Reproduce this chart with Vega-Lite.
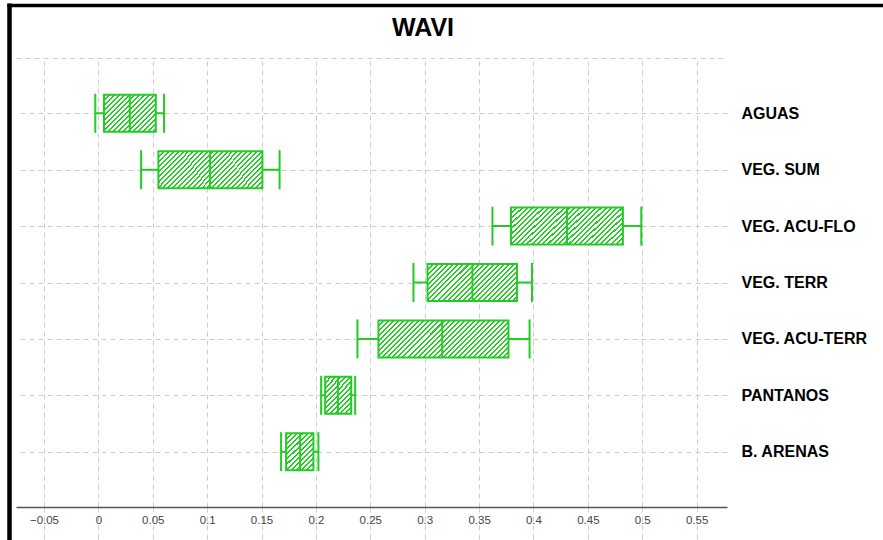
{
  "$schema": "https://vega.github.io/schema/vega-lite/v6.json",
  "autosize": "none",
  "width": 711,
  "height": 449,
  "padding": {"left": 16, "top": 58, "right": 156, "bottom": 33},
  "background": "#ffffff",
  "title": {
    "text": "WAVI",
    "font": "Liberation Sans",
    "fontSize": 25,
    "fontWeight": "bold",
    "color": "#000000",
    "anchor": "middle",
    "frame": "group",
    "dx": 51.5,
    "offset": -56,
    "baseline": "alphabetic"
  },
  "config": {"view": {"stroke": null}},
  "data": {
    "values": [
      {"cat": "AGUAS", "lo": -0.0028, "q1": 0.0052, "med": 0.0289, "q3": 0.0528, "hi": 0.0604},
      {"cat": "VEG. SUM", "lo": 0.0393, "q1": 0.0552, "med": 0.1027, "q3": 0.1508, "hi": 0.1666},
      {"cat": "VEG. ACU-FLO", "lo": 0.3623, "q1": 0.3793, "med": 0.4308, "q3": 0.4822, "hi": 0.4991},
      {"cat": "VEG. TERR", "lo": 0.2897, "q1": 0.3026, "med": 0.3439, "q3": 0.3848, "hi": 0.3986},
      {"cat": "VEG. ACU-TERR", "lo": 0.2382, "q1": 0.2575, "med": 0.3161, "q3": 0.377, "hi": 0.3964},
      {"cat": "PANTANOS", "lo": 0.2048, "q1": 0.2085, "med": 0.2202, "q3": 0.2324, "hi": 0.2361},
      {"cat": "B. ARENAS", "lo": 0.168, "q1": 0.1726, "med": 0.1855, "q3": 0.1977, "hi": 0.2023}
    ]
  },
  "layer": [
    {
      "encoding": {
        "y": {
          "field": "cat",
          "type": "nominal",
          "sort": null,
          "scale": {"type": "point", "padding": 0.98},
          "axis": {
            "orient": "right",
            "title": null,
            "domain": false,
            "ticks": false,
            "labelPadding": 14,
            "labelFont": "Liberation Sans",
            "labelFontSize": 16,
            "labelFontWeight": "bold",
            "labelColor": "#000000",
            "labelLimit": 0,
            "grid": true,
            "gridColor": "#cccccc",
            "gridDash": [5, 4],
            "gridWidth": 1
          }
        }
      },
      "layer": [
        {
          "mark": {"type": "rule", "color": "#2c2", "strokeWidth": 2},
          "encoding": {
            "x": {
              "field": "lo",
              "type": "quantitative",
              "scale": {"domain": [-0.0757, 0.5779], "nice": false, "zero": false},
              "axis": {
                "orient": "bottom",
                "title": null,
                "values": [-0.05, 0, 0.05, 0.1, 0.15, 0.2, 0.25, 0.3, 0.35, 0.4, 0.45, 0.5, 0.55],
                "format": "~g",
                "domain": true,
                "domainColor": "#555555",
                "domainWidth": 1.5,
                "ticks": true,
                "tickSize": 33,
                "tickColor": "#cccccc",
                "tickDash": [5, 4],
                "tickWidth": 1,
                "labelPadding": -26,
                "labelFont": "Liberation Sans",
                "labelFontSize": 11.5,
                "labelColor": "#444444",
                "labelFlush": false,
                "labelOverlap": false,
                "grid": true,
                "gridColor": "#cccccc",
                "gridDash": [5, 4],
                "gridWidth": 1
              }
            },
            "x2": {"field": "hi"}
          }
        },
        {
          "transform": [{"filter": {"field": "cat", "oneOf": ["PANTANOS", "B. ARENAS"]}}],
          "mark": {
            "type": "bar", "size": 37, "stroke": "#2c2", "strokeWidth": 2,
            "fill": {
              "gradient": "linear", "x1": 0, "y1": 0, "x2": 0.817, "y2": 1.132,
              "stops": [
                {"offset": 0, "color": "#2c2"}, {"offset": 0.032, "color": "#2c2"}, {"offset": 0.032, "color": "#fff"}, {"offset": 0.08, "color": "#fff"},
                {"offset": 0.08, "color": "#2c2"}, {"offset": 0.112, "color": "#2c2"}, {"offset": 0.112, "color": "#fff"}, {"offset": 0.16, "color": "#fff"},
                {"offset": 0.16, "color": "#2c2"}, {"offset": 0.192, "color": "#2c2"}, {"offset": 0.192, "color": "#fff"}, {"offset": 0.24, "color": "#fff"},
                {"offset": 0.24, "color": "#2c2"}, {"offset": 0.272, "color": "#2c2"}, {"offset": 0.272, "color": "#fff"}, {"offset": 0.32, "color": "#fff"},
                {"offset": 0.32, "color": "#2c2"}, {"offset": 0.352, "color": "#2c2"}, {"offset": 0.352, "color": "#fff"}, {"offset": 0.4, "color": "#fff"},
                {"offset": 0.4, "color": "#2c2"}, {"offset": 0.432, "color": "#2c2"}, {"offset": 0.432, "color": "#fff"}, {"offset": 0.48, "color": "#fff"},
                {"offset": 0.48, "color": "#2c2"}, {"offset": 0.512, "color": "#2c2"}, {"offset": 0.512, "color": "#fff"}, {"offset": 0.56, "color": "#fff"},
                {"offset": 0.56, "color": "#2c2"}, {"offset": 0.592, "color": "#2c2"}, {"offset": 0.592, "color": "#fff"}, {"offset": 0.64, "color": "#fff"},
                {"offset": 0.64, "color": "#2c2"}, {"offset": 0.672, "color": "#2c2"}, {"offset": 0.672, "color": "#fff"}, {"offset": 0.72, "color": "#fff"},
                {"offset": 0.72, "color": "#2c2"}, {"offset": 0.752, "color": "#2c2"}, {"offset": 0.752, "color": "#fff"}, {"offset": 0.8, "color": "#fff"},
                {"offset": 0.8, "color": "#2c2"}, {"offset": 0.832, "color": "#2c2"}, {"offset": 0.832, "color": "#fff"}, {"offset": 0.88, "color": "#fff"},
                {"offset": 0.88, "color": "#2c2"}, {"offset": 0.912, "color": "#2c2"}, {"offset": 0.912, "color": "#fff"}, {"offset": 0.96, "color": "#fff"},
                {"offset": 0.96, "color": "#2c2"}, {"offset": 0.992, "color": "#2c2"}, {"offset": 0.992, "color": "#fff"}, {"offset": 1, "color": "#fff"}
              ]
            }
          },
          "encoding": {
            "x": {
              "field": "q1", "type": "quantitative",
              "scale": {"domain": [-0.0757, 0.5779], "nice": false, "zero": false},
              "axis": {
                "orient": "top", "title": null, "labels": false, "ticks": false, "grid": false,
                "domain": true, "domainColor": "#cccccc", "domainDash": [5, 4], "domainWidth": 1
              }
            },
            "x2": {"field": "q3"}
          }
        },
        {
          "transform": [{"filter": {"field": "cat", "oneOf": ["VEG. SUM", "VEG. ACU-FLO"]}}],
          "mark": {
            "type": "bar", "size": 37, "stroke": "#2c2", "strokeWidth": 2,
            "fill": {
              "gradient": "linear", "x1": 0, "y1": 0, "x2": 1.2016, "y2": 0.4117,
              "stops": [
                {"offset": 0, "color": "#2c2"}, {"offset": 0.014, "color": "#2c2"}, {"offset": 0.014, "color": "#fff"}, {"offset": 0.035, "color": "#fff"},
                {"offset": 0.035, "color": "#2c2"}, {"offset": 0.049, "color": "#2c2"}, {"offset": 0.049, "color": "#fff"}, {"offset": 0.07, "color": "#fff"},
                {"offset": 0.07, "color": "#2c2"}, {"offset": 0.084, "color": "#2c2"}, {"offset": 0.084, "color": "#fff"}, {"offset": 0.105, "color": "#fff"},
                {"offset": 0.105, "color": "#2c2"}, {"offset": 0.119, "color": "#2c2"}, {"offset": 0.119, "color": "#fff"}, {"offset": 0.14, "color": "#fff"},
                {"offset": 0.14, "color": "#2c2"}, {"offset": 0.154, "color": "#2c2"}, {"offset": 0.154, "color": "#fff"}, {"offset": 0.175, "color": "#fff"},
                {"offset": 0.175, "color": "#2c2"}, {"offset": 0.189, "color": "#2c2"}, {"offset": 0.189, "color": "#fff"}, {"offset": 0.21, "color": "#fff"},
                {"offset": 0.21, "color": "#2c2"}, {"offset": 0.224, "color": "#2c2"}, {"offset": 0.224, "color": "#fff"}, {"offset": 0.245, "color": "#fff"},
                {"offset": 0.245, "color": "#2c2"}, {"offset": 0.259, "color": "#2c2"}, {"offset": 0.259, "color": "#fff"}, {"offset": 0.28, "color": "#fff"},
                {"offset": 0.28, "color": "#2c2"}, {"offset": 0.294, "color": "#2c2"}, {"offset": 0.294, "color": "#fff"}, {"offset": 0.315, "color": "#fff"},
                {"offset": 0.315, "color": "#2c2"}, {"offset": 0.329, "color": "#2c2"}, {"offset": 0.329, "color": "#fff"}, {"offset": 0.35, "color": "#fff"},
                {"offset": 0.35, "color": "#2c2"}, {"offset": 0.364, "color": "#2c2"}, {"offset": 0.364, "color": "#fff"}, {"offset": 0.385, "color": "#fff"},
                {"offset": 0.385, "color": "#2c2"}, {"offset": 0.399, "color": "#2c2"}, {"offset": 0.399, "color": "#fff"}, {"offset": 0.42, "color": "#fff"},
                {"offset": 0.42, "color": "#2c2"}, {"offset": 0.434, "color": "#2c2"}, {"offset": 0.434, "color": "#fff"}, {"offset": 0.455, "color": "#fff"},
                {"offset": 0.455, "color": "#2c2"}, {"offset": 0.469, "color": "#2c2"}, {"offset": 0.469, "color": "#fff"}, {"offset": 0.49, "color": "#fff"},
                {"offset": 0.49, "color": "#2c2"}, {"offset": 0.504, "color": "#2c2"}, {"offset": 0.504, "color": "#fff"}, {"offset": 0.525, "color": "#fff"},
                {"offset": 0.525, "color": "#2c2"}, {"offset": 0.539, "color": "#2c2"}, {"offset": 0.539, "color": "#fff"}, {"offset": 0.56, "color": "#fff"},
                {"offset": 0.56, "color": "#2c2"}, {"offset": 0.574, "color": "#2c2"}, {"offset": 0.574, "color": "#fff"}, {"offset": 0.595, "color": "#fff"},
                {"offset": 0.595, "color": "#2c2"}, {"offset": 0.609, "color": "#2c2"}, {"offset": 0.609, "color": "#fff"}, {"offset": 0.63, "color": "#fff"},
                {"offset": 0.63, "color": "#2c2"}, {"offset": 0.644, "color": "#2c2"}, {"offset": 0.644, "color": "#fff"}, {"offset": 0.665, "color": "#fff"},
                {"offset": 0.665, "color": "#2c2"}, {"offset": 0.679, "color": "#2c2"}, {"offset": 0.679, "color": "#fff"}, {"offset": 0.7, "color": "#fff"},
                {"offset": 0.7, "color": "#2c2"}, {"offset": 0.714, "color": "#2c2"}, {"offset": 0.714, "color": "#fff"}, {"offset": 0.735, "color": "#fff"},
                {"offset": 0.735, "color": "#2c2"}, {"offset": 0.749, "color": "#2c2"}, {"offset": 0.749, "color": "#fff"}, {"offset": 0.77, "color": "#fff"},
                {"offset": 0.77, "color": "#2c2"}, {"offset": 0.784, "color": "#2c2"}, {"offset": 0.784, "color": "#fff"}, {"offset": 0.805, "color": "#fff"},
                {"offset": 0.805, "color": "#2c2"}, {"offset": 0.819, "color": "#2c2"}, {"offset": 0.819, "color": "#fff"}, {"offset": 0.84, "color": "#fff"},
                {"offset": 0.84, "color": "#2c2"}, {"offset": 0.854, "color": "#2c2"}, {"offset": 0.854, "color": "#fff"}, {"offset": 0.875, "color": "#fff"},
                {"offset": 0.875, "color": "#2c2"}, {"offset": 0.889, "color": "#2c2"}, {"offset": 0.889, "color": "#fff"}, {"offset": 0.91, "color": "#fff"},
                {"offset": 0.91, "color": "#2c2"}, {"offset": 0.924, "color": "#2c2"}, {"offset": 0.924, "color": "#fff"}, {"offset": 0.945, "color": "#fff"},
                {"offset": 0.945, "color": "#2c2"}, {"offset": 0.959, "color": "#2c2"}, {"offset": 0.959, "color": "#fff"}, {"offset": 0.98, "color": "#fff"},
                {"offset": 0.98, "color": "#2c2"}, {"offset": 0.994, "color": "#2c2"}, {"offset": 0.994, "color": "#fff"}, {"offset": 1, "color": "#fff"}
              ]
            }
          },
          "encoding": {
            "x": {"field": "q1", "type": "quantitative", "scale": {"domain": [-0.0757, 0.5779], "nice": false, "zero": false}, "axis": null},
            "x2": {"field": "q3"}
          }
        },
        {
          "transform": [{"filter": {"field": "cat", "equal": "AGUAS"}}],
          "mark": {
            "type": "bar", "size": 37, "stroke": "#2c2", "strokeWidth": 2,
            "fill": {
              "gradient": "linear", "x1": 0, "y1": 0, "x2": 1.1346, "y2": 0.812,
              "stops": [
                {"offset": 0, "color": "#2c2"}, {"offset": 0.022, "color": "#2c2"}, {"offset": 0.022, "color": "#fff"}, {"offset": 0.056, "color": "#fff"},
                {"offset": 0.056, "color": "#2c2"}, {"offset": 0.078, "color": "#2c2"}, {"offset": 0.078, "color": "#fff"}, {"offset": 0.112, "color": "#fff"},
                {"offset": 0.112, "color": "#2c2"}, {"offset": 0.134, "color": "#2c2"}, {"offset": 0.134, "color": "#fff"}, {"offset": 0.168, "color": "#fff"},
                {"offset": 0.168, "color": "#2c2"}, {"offset": 0.19, "color": "#2c2"}, {"offset": 0.19, "color": "#fff"}, {"offset": 0.224, "color": "#fff"},
                {"offset": 0.224, "color": "#2c2"}, {"offset": 0.246, "color": "#2c2"}, {"offset": 0.246, "color": "#fff"}, {"offset": 0.28, "color": "#fff"},
                {"offset": 0.28, "color": "#2c2"}, {"offset": 0.302, "color": "#2c2"}, {"offset": 0.302, "color": "#fff"}, {"offset": 0.336, "color": "#fff"},
                {"offset": 0.336, "color": "#2c2"}, {"offset": 0.358, "color": "#2c2"}, {"offset": 0.358, "color": "#fff"}, {"offset": 0.392, "color": "#fff"},
                {"offset": 0.392, "color": "#2c2"}, {"offset": 0.414, "color": "#2c2"}, {"offset": 0.414, "color": "#fff"}, {"offset": 0.448, "color": "#fff"},
                {"offset": 0.448, "color": "#2c2"}, {"offset": 0.47, "color": "#2c2"}, {"offset": 0.47, "color": "#fff"}, {"offset": 0.504, "color": "#fff"},
                {"offset": 0.504, "color": "#2c2"}, {"offset": 0.526, "color": "#2c2"}, {"offset": 0.526, "color": "#fff"}, {"offset": 0.56, "color": "#fff"},
                {"offset": 0.56, "color": "#2c2"}, {"offset": 0.582, "color": "#2c2"}, {"offset": 0.582, "color": "#fff"}, {"offset": 0.616, "color": "#fff"},
                {"offset": 0.616, "color": "#2c2"}, {"offset": 0.638, "color": "#2c2"}, {"offset": 0.638, "color": "#fff"}, {"offset": 0.672, "color": "#fff"},
                {"offset": 0.672, "color": "#2c2"}, {"offset": 0.694, "color": "#2c2"}, {"offset": 0.694, "color": "#fff"}, {"offset": 0.728, "color": "#fff"},
                {"offset": 0.728, "color": "#2c2"}, {"offset": 0.75, "color": "#2c2"}, {"offset": 0.75, "color": "#fff"}, {"offset": 0.784, "color": "#fff"},
                {"offset": 0.784, "color": "#2c2"}, {"offset": 0.806, "color": "#2c2"}, {"offset": 0.806, "color": "#fff"}, {"offset": 0.84, "color": "#fff"},
                {"offset": 0.84, "color": "#2c2"}, {"offset": 0.862, "color": "#2c2"}, {"offset": 0.862, "color": "#fff"}, {"offset": 0.896, "color": "#fff"},
                {"offset": 0.896, "color": "#2c2"}, {"offset": 0.918, "color": "#2c2"}, {"offset": 0.918, "color": "#fff"}, {"offset": 0.952, "color": "#fff"},
                {"offset": 0.952, "color": "#2c2"}, {"offset": 0.974, "color": "#2c2"}, {"offset": 0.974, "color": "#fff"}, {"offset": 1, "color": "#fff"}
              ]
            }
          },
          "encoding": {
            "x": {"field": "q1", "type": "quantitative", "scale": {"domain": [-0.0757, 0.5779], "nice": false, "zero": false}, "axis": null},
            "x2": {"field": "q3"}
          }
        },
        {
          "transform": [{"filter": {"field": "cat", "equal": "VEG. TERR"}}],
          "mark": {
            "type": "bar", "size": 37, "stroke": "#2c2", "strokeWidth": 2,
            "fill": {
              "gradient": "linear", "x1": 0, "y1": 0, "x2": 1.2071, "y2": 0.4996,
              "stops": [
                {"offset": 0, "color": "#2c2"}, {"offset": 0.016, "color": "#2c2"}, {"offset": 0.016, "color": "#fff"}, {"offset": 0.04, "color": "#fff"},
                {"offset": 0.04, "color": "#2c2"}, {"offset": 0.056, "color": "#2c2"}, {"offset": 0.056, "color": "#fff"}, {"offset": 0.08, "color": "#fff"},
                {"offset": 0.08, "color": "#2c2"}, {"offset": 0.096, "color": "#2c2"}, {"offset": 0.096, "color": "#fff"}, {"offset": 0.12, "color": "#fff"},
                {"offset": 0.12, "color": "#2c2"}, {"offset": 0.136, "color": "#2c2"}, {"offset": 0.136, "color": "#fff"}, {"offset": 0.16, "color": "#fff"},
                {"offset": 0.16, "color": "#2c2"}, {"offset": 0.176, "color": "#2c2"}, {"offset": 0.176, "color": "#fff"}, {"offset": 0.2, "color": "#fff"},
                {"offset": 0.2, "color": "#2c2"}, {"offset": 0.216, "color": "#2c2"}, {"offset": 0.216, "color": "#fff"}, {"offset": 0.24, "color": "#fff"},
                {"offset": 0.24, "color": "#2c2"}, {"offset": 0.256, "color": "#2c2"}, {"offset": 0.256, "color": "#fff"}, {"offset": 0.28, "color": "#fff"},
                {"offset": 0.28, "color": "#2c2"}, {"offset": 0.296, "color": "#2c2"}, {"offset": 0.296, "color": "#fff"}, {"offset": 0.32, "color": "#fff"},
                {"offset": 0.32, "color": "#2c2"}, {"offset": 0.336, "color": "#2c2"}, {"offset": 0.336, "color": "#fff"}, {"offset": 0.36, "color": "#fff"},
                {"offset": 0.36, "color": "#2c2"}, {"offset": 0.376, "color": "#2c2"}, {"offset": 0.376, "color": "#fff"}, {"offset": 0.4, "color": "#fff"},
                {"offset": 0.4, "color": "#2c2"}, {"offset": 0.416, "color": "#2c2"}, {"offset": 0.416, "color": "#fff"}, {"offset": 0.44, "color": "#fff"},
                {"offset": 0.44, "color": "#2c2"}, {"offset": 0.456, "color": "#2c2"}, {"offset": 0.456, "color": "#fff"}, {"offset": 0.48, "color": "#fff"},
                {"offset": 0.48, "color": "#2c2"}, {"offset": 0.496, "color": "#2c2"}, {"offset": 0.496, "color": "#fff"}, {"offset": 0.52, "color": "#fff"},
                {"offset": 0.52, "color": "#2c2"}, {"offset": 0.536, "color": "#2c2"}, {"offset": 0.536, "color": "#fff"}, {"offset": 0.56, "color": "#fff"},
                {"offset": 0.56, "color": "#2c2"}, {"offset": 0.576, "color": "#2c2"}, {"offset": 0.576, "color": "#fff"}, {"offset": 0.6, "color": "#fff"},
                {"offset": 0.6, "color": "#2c2"}, {"offset": 0.616, "color": "#2c2"}, {"offset": 0.616, "color": "#fff"}, {"offset": 0.64, "color": "#fff"},
                {"offset": 0.64, "color": "#2c2"}, {"offset": 0.656, "color": "#2c2"}, {"offset": 0.656, "color": "#fff"}, {"offset": 0.68, "color": "#fff"},
                {"offset": 0.68, "color": "#2c2"}, {"offset": 0.696, "color": "#2c2"}, {"offset": 0.696, "color": "#fff"}, {"offset": 0.72, "color": "#fff"},
                {"offset": 0.72, "color": "#2c2"}, {"offset": 0.736, "color": "#2c2"}, {"offset": 0.736, "color": "#fff"}, {"offset": 0.76, "color": "#fff"},
                {"offset": 0.76, "color": "#2c2"}, {"offset": 0.776, "color": "#2c2"}, {"offset": 0.776, "color": "#fff"}, {"offset": 0.8, "color": "#fff"},
                {"offset": 0.8, "color": "#2c2"}, {"offset": 0.816, "color": "#2c2"}, {"offset": 0.816, "color": "#fff"}, {"offset": 0.84, "color": "#fff"},
                {"offset": 0.84, "color": "#2c2"}, {"offset": 0.856, "color": "#2c2"}, {"offset": 0.856, "color": "#fff"}, {"offset": 0.88, "color": "#fff"},
                {"offset": 0.88, "color": "#2c2"}, {"offset": 0.896, "color": "#2c2"}, {"offset": 0.896, "color": "#fff"}, {"offset": 0.92, "color": "#fff"},
                {"offset": 0.92, "color": "#2c2"}, {"offset": 0.936, "color": "#2c2"}, {"offset": 0.936, "color": "#fff"}, {"offset": 0.96, "color": "#fff"},
                {"offset": 0.96, "color": "#2c2"}, {"offset": 0.976, "color": "#2c2"}, {"offset": 0.976, "color": "#fff"}, {"offset": 1, "color": "#fff"}
              ]
            }
          },
          "encoding": {
            "x": {"field": "q1", "type": "quantitative", "scale": {"domain": [-0.0757, 0.5779], "nice": false, "zero": false}, "axis": null},
            "x2": {"field": "q3"}
          }
        },
        {
          "transform": [{"filter": {"field": "cat", "equal": "VEG. ACU-TERR"}}],
          "mark": {
            "type": "bar", "size": 37, "stroke": "#2c2", "strokeWidth": 2,
            "fill": {
              "gradient": "linear", "x1": 0, "y1": 0, "x2": 1.1884, "y2": 0.3382,
              "stops": [
                {"offset": 0, "color": "#2c2"}, {"offset": 0.012, "color": "#2c2"}, {"offset": 0.012, "color": "#fff"}, {"offset": 0.03, "color": "#fff"},
                {"offset": 0.03, "color": "#2c2"}, {"offset": 0.042, "color": "#2c2"}, {"offset": 0.042, "color": "#fff"}, {"offset": 0.06, "color": "#fff"},
                {"offset": 0.06, "color": "#2c2"}, {"offset": 0.072, "color": "#2c2"}, {"offset": 0.072, "color": "#fff"}, {"offset": 0.09, "color": "#fff"},
                {"offset": 0.09, "color": "#2c2"}, {"offset": 0.102, "color": "#2c2"}, {"offset": 0.102, "color": "#fff"}, {"offset": 0.12, "color": "#fff"},
                {"offset": 0.12, "color": "#2c2"}, {"offset": 0.132, "color": "#2c2"}, {"offset": 0.132, "color": "#fff"}, {"offset": 0.15, "color": "#fff"},
                {"offset": 0.15, "color": "#2c2"}, {"offset": 0.162, "color": "#2c2"}, {"offset": 0.162, "color": "#fff"}, {"offset": 0.18, "color": "#fff"},
                {"offset": 0.18, "color": "#2c2"}, {"offset": 0.192, "color": "#2c2"}, {"offset": 0.192, "color": "#fff"}, {"offset": 0.21, "color": "#fff"},
                {"offset": 0.21, "color": "#2c2"}, {"offset": 0.222, "color": "#2c2"}, {"offset": 0.222, "color": "#fff"}, {"offset": 0.24, "color": "#fff"},
                {"offset": 0.24, "color": "#2c2"}, {"offset": 0.252, "color": "#2c2"}, {"offset": 0.252, "color": "#fff"}, {"offset": 0.27, "color": "#fff"},
                {"offset": 0.27, "color": "#2c2"}, {"offset": 0.282, "color": "#2c2"}, {"offset": 0.282, "color": "#fff"}, {"offset": 0.3, "color": "#fff"},
                {"offset": 0.3, "color": "#2c2"}, {"offset": 0.312, "color": "#2c2"}, {"offset": 0.312, "color": "#fff"}, {"offset": 0.33, "color": "#fff"},
                {"offset": 0.33, "color": "#2c2"}, {"offset": 0.342, "color": "#2c2"}, {"offset": 0.342, "color": "#fff"}, {"offset": 0.36, "color": "#fff"},
                {"offset": 0.36, "color": "#2c2"}, {"offset": 0.372, "color": "#2c2"}, {"offset": 0.372, "color": "#fff"}, {"offset": 0.39, "color": "#fff"},
                {"offset": 0.39, "color": "#2c2"}, {"offset": 0.402, "color": "#2c2"}, {"offset": 0.402, "color": "#fff"}, {"offset": 0.42, "color": "#fff"},
                {"offset": 0.42, "color": "#2c2"}, {"offset": 0.432, "color": "#2c2"}, {"offset": 0.432, "color": "#fff"}, {"offset": 0.45, "color": "#fff"},
                {"offset": 0.45, "color": "#2c2"}, {"offset": 0.462, "color": "#2c2"}, {"offset": 0.462, "color": "#fff"}, {"offset": 0.48, "color": "#fff"},
                {"offset": 0.48, "color": "#2c2"}, {"offset": 0.492, "color": "#2c2"}, {"offset": 0.492, "color": "#fff"}, {"offset": 0.51, "color": "#fff"},
                {"offset": 0.51, "color": "#2c2"}, {"offset": 0.522, "color": "#2c2"}, {"offset": 0.522, "color": "#fff"}, {"offset": 0.54, "color": "#fff"},
                {"offset": 0.54, "color": "#2c2"}, {"offset": 0.552, "color": "#2c2"}, {"offset": 0.552, "color": "#fff"}, {"offset": 0.57, "color": "#fff"},
                {"offset": 0.57, "color": "#2c2"}, {"offset": 0.582, "color": "#2c2"}, {"offset": 0.582, "color": "#fff"}, {"offset": 0.6, "color": "#fff"},
                {"offset": 0.6, "color": "#2c2"}, {"offset": 0.612, "color": "#2c2"}, {"offset": 0.612, "color": "#fff"}, {"offset": 0.63, "color": "#fff"},
                {"offset": 0.63, "color": "#2c2"}, {"offset": 0.642, "color": "#2c2"}, {"offset": 0.642, "color": "#fff"}, {"offset": 0.66, "color": "#fff"},
                {"offset": 0.66, "color": "#2c2"}, {"offset": 0.672, "color": "#2c2"}, {"offset": 0.672, "color": "#fff"}, {"offset": 0.69, "color": "#fff"},
                {"offset": 0.69, "color": "#2c2"}, {"offset": 0.702, "color": "#2c2"}, {"offset": 0.702, "color": "#fff"}, {"offset": 0.72, "color": "#fff"},
                {"offset": 0.72, "color": "#2c2"}, {"offset": 0.732, "color": "#2c2"}, {"offset": 0.732, "color": "#fff"}, {"offset": 0.75, "color": "#fff"},
                {"offset": 0.75, "color": "#2c2"}, {"offset": 0.762, "color": "#2c2"}, {"offset": 0.762, "color": "#fff"}, {"offset": 0.78, "color": "#fff"},
                {"offset": 0.78, "color": "#2c2"}, {"offset": 0.792, "color": "#2c2"}, {"offset": 0.792, "color": "#fff"}, {"offset": 0.81, "color": "#fff"},
                {"offset": 0.81, "color": "#2c2"}, {"offset": 0.822, "color": "#2c2"}, {"offset": 0.822, "color": "#fff"}, {"offset": 0.84, "color": "#fff"},
                {"offset": 0.84, "color": "#2c2"}, {"offset": 0.852, "color": "#2c2"}, {"offset": 0.852, "color": "#fff"}, {"offset": 0.87, "color": "#fff"},
                {"offset": 0.87, "color": "#2c2"}, {"offset": 0.882, "color": "#2c2"}, {"offset": 0.882, "color": "#fff"}, {"offset": 0.9, "color": "#fff"},
                {"offset": 0.9, "color": "#2c2"}, {"offset": 0.912, "color": "#2c2"}, {"offset": 0.912, "color": "#fff"}, {"offset": 0.93, "color": "#fff"},
                {"offset": 0.93, "color": "#2c2"}, {"offset": 0.942, "color": "#2c2"}, {"offset": 0.942, "color": "#fff"}, {"offset": 0.96, "color": "#fff"},
                {"offset": 0.96, "color": "#2c2"}, {"offset": 0.972, "color": "#2c2"}, {"offset": 0.972, "color": "#fff"}, {"offset": 0.99, "color": "#fff"},
                {"offset": 0.99, "color": "#2c2"}, {"offset": 1, "color": "#2c2"}
              ]
            }
          },
          "encoding": {
            "x": {"field": "q1", "type": "quantitative", "scale": {"domain": [-0.0757, 0.5779], "nice": false, "zero": false}, "axis": null},
            "x2": {"field": "q3"}
          }
        },
        {
          "mark": {"type": "tick", "color": "#2c2", "size": 37, "thickness": 2, "opacity": 1},
          "encoding": {
            "x": {"field": "med", "type": "quantitative", "scale": {"domain": [-0.0757, 0.5779], "nice": false, "zero": false}, "axis": null}
          }
        },
        {
          "mark": {"type": "tick", "color": "#2c2", "size": 39, "thickness": 2, "opacity": 1},
          "encoding": {
            "x": {"field": "lo", "type": "quantitative", "scale": {"domain": [-0.0757, 0.5779], "nice": false, "zero": false}, "axis": null}
          }
        },
        {
          "mark": {"type": "tick", "color": "#2c2", "size": 39, "thickness": 2, "opacity": 1},
          "encoding": {
            "x": {"field": "hi", "type": "quantitative", "scale": {"domain": [-0.0757, 0.5779], "nice": false, "zero": false}, "axis": null}
          }
        }
      ],
      "resolve": {"axis": {"x": "independent"}}
    },
    {
      "data": {"values": [{}]},
      "mark": {"type": "point", "opacity": 0},
      "encoding": {
        "x": {
          "datum": 0,
          "type": "quantitative",
          "scale": {"domain": [0, 1], "range": [-9, 867]},
          "axis": {
            "orient": "top", "offset": 53, "title": null, "labels": false, "ticks": false, "grid": false,
            "domain": true, "domainColor": "#000000", "domainWidth": 3.5
          }
        },
        "y": {
          "datum": 0,
          "type": "quantitative",
          "scale": {"domain": [0, 1], "range": [482, -55]},
          "axis": {
            "orient": "left", "offset": 7, "title": null, "labels": false, "ticks": false, "grid": false,
            "domain": true, "domainColor": "#000000", "domainWidth": 4.5
          }
        }
      }
    }
  ],
  "resolve": {
    "scale": {"x": "independent", "y": "independent"},
    "axis": {"x": "independent", "y": "independent"}
  }
}
